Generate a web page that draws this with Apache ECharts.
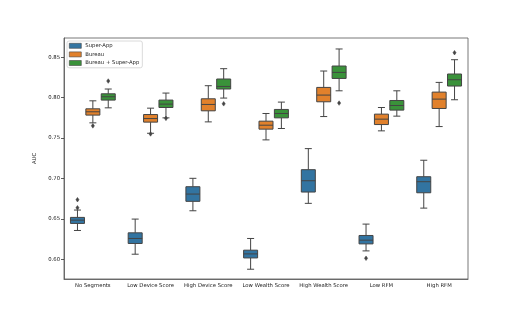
<!DOCTYPE html>
<html>
<head>
<meta charset="utf-8">
<script src="https://cdn.jsdelivr.net/npm/echarts@6/dist/echarts.min.js"></script>
<style>html,body{margin:0;padding:0;background:#fff}#c{width:520px;height:320px}</style>
</head>
<body>
<div id="c"></div>
<script>
const categories = ['No Segments','Low Device Score','High Device Score','Low Wealth Score','High Wealth Score','Low RFM','High RFM'];
const seriesNames = ['Super-App','Bureau','Bureau + Super-App'];
const yTicks = [0.60,0.65,0.70,0.75,0.80,0.85];
// [lower whisker, Q1, median, Q3, upper whisker]
const superApp = [
  [0.6356,0.6443,0.6484,0.6518,0.6609],
  [0.6062,0.6195,0.6257,0.6327,0.6497],
  [0.6600,0.6717,0.6807,0.6898,0.7002],
  [0.5876,0.6016,0.6066,0.6112,0.6257],
  [0.6692,0.6832,0.6972,0.7109,0.7370],
  [0.6103,0.6190,0.6236,0.6294,0.6435],
  [0.6633,0.6823,0.6960,0.7022,0.7226]
];
const bureau = [
  [0.7689,0.7785,0.7826,0.7863,0.7962],
  [0.7560,0.7698,0.7742,0.7792,0.7871],
  [0.7701,0.7838,0.7917,0.7987,0.8149],
  [0.7478,0.7611,0.7660,0.7710,0.7805],
  [0.7767,0.7950,0.8033,0.8128,0.8331],
  [0.7590,0.7668,0.7735,0.7797,0.7879],
  [0.7643,0.7867,0.7983,0.8070,0.8190]
];
const bureauSuperApp = [
  [0.7875,0.7971,0.8012,0.8049,0.8108],
  [0.7751,0.7879,0.7921,0.7971,0.8058],
  [0.7996,0.8108,0.8140,0.8232,0.8360],
  [0.7619,0.7751,0.7805,0.7855,0.7946],
  [0.8086,0.8239,0.8314,0.8393,0.8604],
  [0.7772,0.7847,0.7904,0.7966,0.8086],
  [0.7975,0.8145,0.8223,0.8294,0.8471]
];
// outliers: [category index, value]
const superAppOutliers = [[0,0.6737],[0,0.6637],[5,0.6012]];
const bureauOutliers = [[0,0.7652],[1,0.7552]];
const bureauSuperAppOutliers = [[0,0.8207],[1,0.7745],[2,0.7925],[4,0.7934],[6,0.8558]];

const colors = ['#3274a1','#e1812c','#3a923a'];
const lineColor = '#444444';

function boxRender(hue){
  return function(params, api){
    const cat = api.value(0);
    const band = api.size([1,0])[0];
    const step = band*0.8/3;
    const cx = api.coord([cat, 0])[0] + (hue-1)*step;
    const bw = step*0.91;
    const yMin = api.coord([cat, api.value(1)])[1];
    const yQ1 = api.coord([cat, api.value(2)])[1];
    const yMed = api.coord([cat, api.value(3)])[1];
    const yQ3 = api.coord([cat, api.value(4)])[1];
    const yMax = api.coord([cat, api.value(5)])[1];
    const ls = {stroke: lineColor, lineWidth: 1};
    const cw = bw/4;
    return {type:'group', children:[
      {type:'line', shape:{x1:cx,y1:yQ3,x2:cx,y2:yMax}, style:ls},
      {type:'line', shape:{x1:cx,y1:yQ1,x2:cx,y2:yMin}, style:ls},
      {type:'line', shape:{x1:cx-cw,y1:yMax,x2:cx+cw,y2:yMax}, style:ls},
      {type:'line', shape:{x1:cx-cw,y1:yMin,x2:cx+cw,y2:yMin}, style:ls},
      {type:'rect', shape:{x:cx-bw/2,y:yQ3,width:bw,height:yQ1-yQ3}, style:{fill:colors[hue], stroke:lineColor, lineWidth:1}},
      {type:'line', shape:{x1:cx-bw/2,y1:yMed,x2:cx+bw/2,y2:yMed}, style:ls}
    ]};
  };
}
function outlierRender(hue){
  return function(params, api){
    const cat = api.value(0);
    const band = api.size([1,0])[0];
    const step = band*0.8/3;
    const p = api.coord([cat, api.value(1)]);
    const cx = p[0] + (hue-1)*step, cy = p[1];
    const w = 1.6, h = 2.3;
    return {type:'polygon', shape:{points:[[cx,cy-h],[cx+w,cy],[cx,cy+h],[cx-w,cy]]}, style:{fill:lineColor, stroke:lineColor, lineWidth:0.5}};
  };
}
const boxData = [superApp, bureau, bureauSuperApp];
const outData = [superAppOutliers, bureauOutliers, bureauSuperAppOutliers];
const series = [];
for (let h=0; h<3; h++){
  series.push({
    type:'custom', name: seriesNames[h], renderItem: boxRender(h),
    itemStyle:{color: colors[h]},
    encode:{x:0, y:[1,2,3,4,5]},
    data: boxData[h].map((d,i)=>[i].concat(d))
  });
}
for (let h=0; h<3; h++){
  series.push({
    type:'custom', name: 'out'+h, renderItem: outlierRender(h),
    encode:{x:0, y:1},
    data: outData[h]
  });
}
const font = 'DejaVu Sans';
const chart = echarts.init(document.getElementById('c'), null, {renderer:'canvas'});
chart.setOption({
  animation:false,
  backgroundColor:'#ffffff',
  grid:{left:64, top:38, right:52, bottom:41, show:true, borderColor:'#555', borderWidth:0.8, backgroundColor:'transparent'},
  legend:{
    data: seriesNames.map(n=>({name:n, icon:'rect'})),
    orient:'vertical', left:67, top:41,
    itemWidth:12, itemHeight:5, itemGap:3,
    padding:[2,3,2,2],
    borderColor:'#d0d0d0', borderWidth:0.8, borderRadius:2,
    backgroundColor:'rgba(255,255,255,0.8)',
    itemStyle:{borderColor:lineColor, borderWidth:0.6},
    textStyle:{fontFamily:font, fontSize:5.3, color:'#222', padding:[0,0,0,-1]}
  },
  xAxis:{
    type:'category', data:categories,
    axisLine:{show:true, lineStyle:{color:'#555', width:0.8}},
    axisTick:{alignWithLabel:true, length:3, lineStyle:{color:'#333', width:0.8}},
    axisLabel:{fontFamily:font, fontSize:5.3, color:'#222', margin:4, interval:0},
    splitLine:{show:false}
  },
  yAxis:{
    type:'value', min:0.5755, max:0.874,
    name:'AUC', nameLocation:'middle', nameGap:27, nameRotate:90,
    nameTextStyle:{fontFamily:font, fontSize:5.3, color:'#222'},
    axisLine:{show:true, lineStyle:{color:'#555', width:0.8}},
    axisTick:{show:true, length:3, customValues:yTicks, lineStyle:{color:'#333', width:0.8}},
    axisLabel:{fontFamily:font, fontSize:5.3, color:'#222', margin:4, customValues:yTicks, formatter:v=>v.toFixed(2)},
    splitLine:{show:false}
  },
  series: series
});
</script>
</body>
</html>
